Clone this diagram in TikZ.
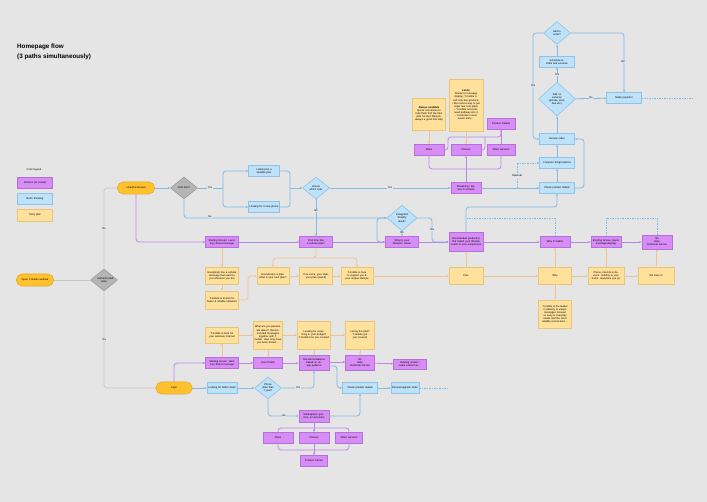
\documentclass[tikz,border=0pt]{standalone}
\usepackage{fontspec}
\setmainfont{Liberation Sans}
\usetikzlibrary{shapes.geometric,arrows.meta}

\definecolor{bgc}{HTML}{E5E5E5}
\definecolor{scrfill}{HTML}{D88CF6}
\definecolor{scrline}{HTML}{B56FD9}
\definecolor{bltfill}{HTML}{BDE2F9}
\definecolor{bltline}{HTML}{8CC3EB}
\definecolor{notefill}{HTML}{FFE19C}
\definecolor{noteline}{HTML}{E9C57A}
\definecolor{pillfill}{HTML}{FFC22E}
\definecolor{pillline}{HTML}{E8A91C}
\definecolor{decfill}{HTML}{B5B5B5}
\definecolor{decline}{HTML}{9C9C9C}
\definecolor{bluewire}{HTML}{7DBBE9}
\definecolor{purplewire}{HTML}{BC85EC}
\definecolor{orangewire}{HTML}{F2C28D}
\definecolor{graywire}{HTML}{C6C6C6}

\newcommand\flowfont{\fontsize{2.6pt}{3.1pt}\selectfont}

\tikzset{
  screen/.style={draw=scrline,fill=scrfill,line width=0.6pt,text width=#1,minimum height=11pt,inner sep=0.5pt,align=center,font=\flowfont},
  screen/.default=29pt,
  built/.style={draw=bltline,fill=bltfill,line width=0.6pt,text width=#1,minimum height=11pt,inner sep=0.5pt,align=center,font=\flowfont},
  built/.default=34pt,
  note/.style={draw=noteline,fill=notefill,line width=0.6pt,text width=#1,minimum height=17pt,inner sep=0.5pt,align=center,font=\flowfont},
  note/.default=32pt,
  pill/.style={draw=pillline,fill=pillfill,line width=0.6pt,rounded corners=5.5pt,text width=#1,minimum height=12pt,inner sep=0.5pt,align=center,font=\flowfont},
  pill/.default=36pt,
  grayq/.style={diamond,draw=decline,fill=decfill,line width=0.6pt,minimum width=27pt,minimum height=22pt,inner sep=0pt,text width=13pt,align=center,font=\flowfont},
  blueq/.style={diamond,draw=bltline,fill=bltfill,line width=0.6pt,minimum width=27pt,minimum height=22pt,inner sep=0pt,text width=13pt,align=center,font=\flowfont},
  bwire/.style={draw=bluewire,line width=0.8pt,rounded corners=3pt,-{Latex[length=2.2pt,width=2.2pt]}},
  pwire/.style={draw=purplewire,line width=0.8pt,rounded corners=3pt,-{Latex[length=2.2pt,width=2.2pt]}},
  owire/.style={draw=orangewire,line width=0.8pt,rounded corners=3pt,-{Latex[length=2.2pt,width=2.2pt]}},
  gwire/.style={draw=graywire,line width=0.8pt,rounded corners=3pt},
  dwire/.style={draw=bluewire,line width=0.8pt,dashed,dash pattern=on 1.5pt off 1pt},
  wlabel/.style={font=\flowfont,fill=bgc,inner sep=0.4pt}
}

\begin{document}
\begin{tikzpicture}[x=1pt,y=-1pt]
\fill[bgc] (0,0) rectangle (707,502);
\useasboundingbox (0,0) rectangle (707,502);

% title and legend
\node[font=\bfseries\fontsize{6.3pt}{9.8pt}\selectfont,anchor=north west,align=left,inner sep=0pt] (title) at (17,44) {Homepage flow\\(3 paths simultaneously)};
\node[font=\flowfont] (lgtitle) at (34,170) {Color legend};
\node[screen=34pt] (lgscr) at (35,183) {Screens (to create)};
\node[built=34pt] (lgblt) at (35,199) {Built / Existing};
\node[note=34pt,minimum height=12pt] (lgnote) at (35,215) {Story plan};

% entry
\node[pill] (open) at (35,280) {Open T-mobile website};
\node[grayq] (auth) at (104,280) {Authenticated state};
\node[pill] (unauth) at (136,188) {Unauthenticated};
\node[grayq] (first) at (184,188) {First time?};
\node[built=30pt] (lkplan) at (264,171) {Looking for a suitable plan};
\node[built=30pt] (lkphone) at (264,207) {Looking for a new phone};
\node[blueq] (which) at (316,188) {Unsure which suits};

% upper purple row
\node[screen=32pt] (start1) at (222,242) {Starting Screen: Landing / brand message};
\node[screen=32pt] (firstcell) at (316,242) {First time has a cellular plan?};
\node[blueq,minimum width=30pt,minimum height=26pt] (insta) at (402,218) {Instagram/ Shopify result?};
\node[screen=32pt] (life) at (402,242) {What is your lifestyle? Share};
\node[screen=33pt,minimum height=19pt] (boxbrand) at (466,242) {Box-branded product(s) that match your lifestyle needs to your uniqueness};
\node[screen] (whytm) at (555,242) {Why T-mobile};
\node[screen] (exist) at (606,242) {Existing Screen (same message/display)};
\node[screen,minimum height=14pt] (fiveg) at (657,242) {5G\\Help\\Customer service};

% product cluster
\node[screen] (stream) at (466,188) {Streaming / Device in screens};
\node[screen] (plans) at (429,150) {Plans};
\node[screen] (phones) at (466,150) {Phones};
\node[screen=27pt] (other) at (501,150) {Other services};
\node[screen=27pt] (pdet) at (501,124) {Product Details};
\node[note,minimum height=32pt] (nalways) at (429,114) {\textbf{Always available}\\Quote connection to help them find the best plan for their lifestyle, always a good first step};
\node[note=33pt,minimum height=52pt] (nlimits) at (466,105) {\textbf{Limits}\\Similar to message display; T-mobile itself only has products\\ \textbullet{} We need a way to get super low cost plans\\ \textbullet{} T-mobile accounts need pathway into it\\ \textbullet{} Customers need easier entry\ldots};

% checkout
\node[built] (check) at (557,188) {Check product details};
\node[built] (compare) at (557,163) {Compare things/options};
\node[built] (review) at (557,139) {Review order};
\node[blueq,minimum width=37pt,minimum height=34pt,text width=17pt] (addsvc) at (557,99) {Add on services (private, prior, free etc.)};
\node[built] (sched) at (557,62) {Schedule installs and services};
\node[blueq,minimum height=23pt] (addord) at (557,33) {Add to order?};
\node[built] (pay) at (624,98) {Make payment};
\coordinate (payend) at (692,98);

% story notes, upper path
\node[note] (n1) at (222,276) {Everybody has a cellular message that reaches you wherever you are};
\node[note,minimum height=18pt] (n2) at (222,300) {T-mobile is known for better \& reliable networks};
\node[note=31pt] (n3) at (273,276) {Everybody's a plan, what is your next plan?};
\node[note] (n4) at (316,276) {Your voice, your style, your plan (saved)};
\node[note=31pt] (n5) at (357,276) {T-mobile is here to support you \& your unique lifestyle};
\node[note=33pt] (n6) at (466,276) {Plan};
\node[note] (n7) at (555,276) {Why};
\node[note=35pt] (n8) at (606,276) {Phone, internet \& devices: mobility to your home, anywhere you go};
\node[note=35pt] (n9) at (656,276) {We have it!};
\node[note,minimum height=28pt] (n10) at (555,314) {T-mobile is the leader in delivery \& unique messages focused on easy \& everyday needs and the most reliable connections\ldots};

% lower path
\node[pill=35pt] (login) at (174,388) {Login};
\node[screen=32pt] (start2) at (222,363) {Starting screen: landing / brand message};
\node[screen=28pt] (uprof) at (268,363) {User Profile};
\node[screen,minimum height=15pt] (recom) at (314,363) {Recommendations based on usage patterns};
\node[screen=28pt,minimum height=15pt] (fiveg2) at (360,363) {5G\\Help\\Customer service};
\node[screen=32pt,minimum height=10pt] (exist2) at (410,364) {Existing screen / same content as\ldots};
\node[note,minimum height=16pt] (m1) at (222,335) {T-mobile is here for your wireless/ internet};
\node[note=28pt,minimum height=28pt] (m2) at (268,335) {What are you passionate about? Recommended messages together with T-mobile. How long have you been known\ldots};
\node[note,minimum height=28pt] (m3) at (314,335) {Looking for something in your budget?\\T-mobile has you covered};
\node[note=28pt,minimum height=28pt] (m4) at (360,335) {Loving the plan?\\T-mobile got you covered};
\node[built=29pt] (deals) at (222,388) {Looking for better deals};
\node[blueq] (spoken) at (268,388) {Phone older than 1 year?};
\node[built] (chk2) at (360,388) {Check product details};
\node[built=27pt] (rev2) at (405,388) {Review/upgrade order};
\coordinate (rev2end) at (447,388);
\node[screen,minimum height=12pt] (market) at (314,416) {Marketplace (promos, accessories)};
\node[screen] (plans2) at (278,438) {Plans};
\node[screen] (phones2) at (314,438) {Phones};
\node[screen=26pt] (other2) at (349,438) {Other services};
\node[screen=26pt] (pcenter) at (314,461) {Product Center};

% gray connectors
\draw[gwire] (open) -- (auth);
\draw[gwire] (auth.north) |- (unauth.west);
\draw[gwire] (auth.south) |- (login.west);
\node[wlabel] (lbno1) at (104,229) {No};
\node[wlabel] (lbyes1) at (104,340) {Yes};

% blue connectors, upper path
\coordinate (fork1) at (223,188);
\coordinate (join1) at (290,188);
\draw[bwire] (unauth) -- (first);
\draw[bwire,-] (first.east) -- (fork1);
\draw[bwire] (fork1) |- (lkplan.west);
\draw[bwire] (fork1) |- (lkphone.west);
\draw[bwire,-] (lkplan.east) -| (join1);
\draw[bwire,-] (lkphone.east) -| (join1);
\draw[bwire] (join1) -- (which.west);
\draw[bwire] (first.south) |- (insta.west);
\draw[bwire] (which.south) -- (firstcell.north);
\draw[bwire] (which.east) -- (stream.west);
\draw[bwire] (life.west) -- (377,242) |- (insta.west);
\draw[bwire] (insta.south) -- (life.north);
\draw[bwire] (insta.east) -- (432,218) |- (boxbrand.west);
\draw[bwire] (stream.east) -- (check.west);
\draw[dwire,-{Latex[length=2.2pt,width=2.2pt]}] (517,188) |- (compare.west);
\draw[bwire] (boxbrand.north) -- (466,207) -| (check.south);
\draw[bwire] (check) -- (compare);
\draw[bwire] (compare) -- (review);
\draw[bwire] (check.east) -- (584,188) |- (review.east);
\draw[bwire] (review) -- (addsvc);
\draw[bwire] (addsvc) -- (sched);
\draw[bwire] (sched) -- (addord);
\draw[bwire] (addord.east) -| (pay.north);
\draw[bwire] (addord.west) -- (533,33) |- (review.west);
\draw[bwire] (addsvc) -- (pay);
\draw[dwire] (pay.east) -- (payend);
\draw[dwire] (whytm.north) |- (466,218);
\draw[dwire] (exist.north) -- (606,218);
\draw[dwire] (fiveg.north) |- (606,218);
\node[wlabel] (lbyes2) at (210,188) {Yes};
\node[wlabel] (lbno2) at (210,217) {No};
\node[wlabel] (lbno3) at (316,211) {No};
\node[wlabel] (lbyes3) at (390,188) {Yes};
\node[wlabel] (lbno4) at (402,233) {No};
\node[wlabel] (lbyes4) at (432,230) {Yes};
\node[wlabel] (lbopt) at (517,176) {Optional};
\node[wlabel] (lbyes5) at (557,75) {Yes};
\node[wlabel] (lbno5) at (623,62) {No};
\node[wlabel] (lbyes6) at (533,86) {Yes};
\node[wlabel] (lbno6) at (591,98) {No};

% purple connectors
\draw[pwire] (unauth.south) |- (start1.west);
\draw[pwire] (start1) -- (firstcell);
\draw[pwire] (firstcell) -- (life);
\draw[pwire] (life) -- (boxbrand);
\draw[pwire] (boxbrand) -- (whytm);
\draw[pwire] (whytm) -- (exist);
\draw[pwire] (exist) -- (fiveg);
\draw[pwire] (stream.north) -- (phones.south);
\draw[pwire,-] (plans.south) -- (429,169) -| (other.south);
\draw[pwire] (plans.east) -| (448,137) -| (pdet.south);
\draw[pwire,-] (phones.east) -| (485,137);
\draw[pwire,-] (other.north) -- (pdet.south);
\draw[pwire] (login.north) |- (start2.west);
\draw[pwire] (start2) -- (uprof);
\draw[pwire] (uprof) -- (recom);
\draw[pwire] ([yshift=1pt]recom.east) -- ([yshift=1pt]fiveg2.west);
\draw[pwire] (fiveg2) -- (exist2);
\draw[pwire] (market.south) -- (phones2.north);
\draw[pwire,-] (plans2.north) -- (278,428) -| (other2.north);
\draw[pwire,-] (plans2.south) -- (278,450) -| (other2.south);
\draw[pwire] (phones2.south) -- (pcenter.north);

% orange connectors
\draw[owire] (start1) -- (n1);
\draw[owire] (n1) -- (n2);
\draw[owire] (n2.east) -- (248,300) |- (n3.west);
\draw[owire] (firstcell.south) -- (316,258) -| (n3.north);
\draw[owire] (316,258) -| (n5.north);
\draw[owire] (n3) -- (n4);
\draw[owire] (n4) -- (n5);
\draw[owire] (n5) -- (n6);
\draw[owire] (n6) -- (n7);
\draw[owire] (n7) -- (n8);
\draw[owire] (n8) -- (n9);
\draw[owire] (n6) -- (boxbrand);
\draw[owire] (n7) -- (whytm);
\draw[owire] (n8) -- (exist);
\draw[owire] (n9) -- (fiveg);
\draw[owire] (n7) -- (n10);
\draw[owire] (nalways) -- (plans);
\draw[owire] (nlimits) -- (phones);
\draw[owire] (start2) -- (m1);
\draw[owire] (m1) -- (m2);
\draw[owire] (m2) -- (m3);
\draw[owire] (m3) -- (m4);
\draw[owire] (m2) -- (uprof);
\draw[owire] (m3) -- (recom);
\draw[owire] (m4) -- (fiveg2);

% blue connectors, lower path
\draw[bwire] (login) -- (deals);
\draw[bwire] (deals) -- (spoken);
\draw[bwire] (spoken.east) -| (recom.south);
\draw[bwire] (spoken.south) |- (market.west);
\draw[bwire] (market.east) -| (chk2.south);
\draw[bwire] ([yshift=-3pt]recom.east) -- (337,366) |- (chk2.west);
\draw[bwire] (chk2) -- (rev2);
\draw[dwire] (rev2.east) -- (rev2end);
\node[wlabel] (lbyes7) at (298,388) {Yes};
\node[wlabel] (lbno7) at (284,416) {No};
\end{tikzpicture}
\end{document}
